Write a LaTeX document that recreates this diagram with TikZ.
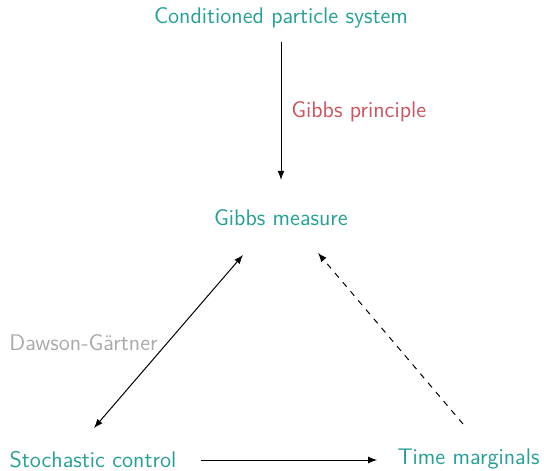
\documentclass[tikz,border=0pt]{standalone}
\usetikzlibrary{arrows.meta}
\definecolor{tealc}{RGB}{38,160,150}
\definecolor{redc}{RGB}{205,85,95}
\definecolor{grayc}{RGB}{170,170,170}
\begin{document}
\begin{tikzpicture}[x=1pt,y=1pt,font=\sffamily\fontsize{11.3}{13.6}\selectfont,
  lbl/.style={text=tealc,inner sep=0pt},
  arr/.style={-{Latex[length=4.5pt,width=3.4pt]},line width=0.5pt}]
\useasboundingbox (0,0) rectangle (272,235);
\node[lbl] (top) at (140.5,226) {Conditioned particle system};
\node[lbl] (gm) at (140.5,126.2) {Gibbs measure};
\node[lbl] (sc) at (46.5,5.2) {Stochastic control};
\node[lbl] (tm) at (234.25,5.7) {Time marginals};
\node[text=redc,inner sep=0pt,anchor=west] (gp) at (145.5,179.3) {Gibbs principle};
\node[text=grayc,inner sep=0pt] (dg) at (41.75,63.8) {Dawson-Gärtner};
\coordinate (d1) at (47,21);
\coordinate (d2) at (121.5,107.5);
\coordinate (e1) at (231.5,23);
\coordinate (e2) at (159,108.5);
\draw[arr] (top.south |- 0,214) -- (gm.north |- 0,145);
\draw[arr] (sc.east |- 0,5) ++(12,0) coordinate (h1) -- ([xshift=-10pt]tm.west |- h1);
\draw[arr,{Latex[length=4.5pt,width=3.4pt]}-{Latex[length=4.5pt,width=3.4pt]}] (d1) -- (d2);
\draw[arr,dashed] (e1) -- (e2);
\end{tikzpicture}
\end{document}
